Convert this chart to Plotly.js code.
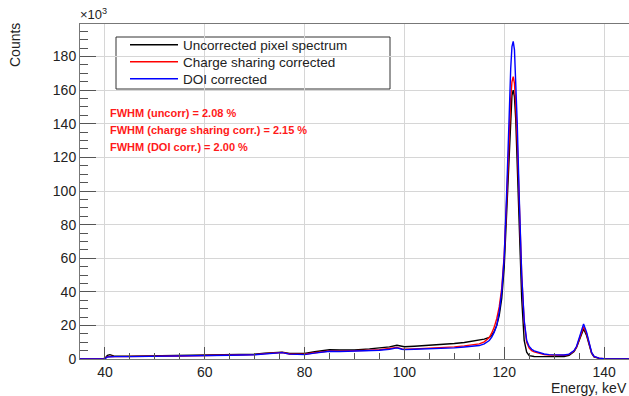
<!DOCTYPE html>
<html>
<head>
<meta charset="utf-8">
<script src="https://cdn.plot.ly/plotly-3.0.1.min.js"></script>
<style>html,body{margin:0;padding:0;background:#fff;} #chart{width:629px;height:396px;}</style>
</head>
<body>
<div id="chart"></div>
<script>
// Energy (keV)
const energy = [35, 39.5, 40, 40.5, 41, 41.5, 42, 45, 50, 55,
  60, 65, 70, 72, 74, 75.5, 77, 80, 82, 85,
  87, 90, 93, 95, 97, 98.5, 99.5, 100, 102, 105,
  108, 110, 112, 115, 116, 117, 117.5, 118, 118.5, 119,
  119.5, 120, 120.5, 121, 121.3, 121.55, 121.8, 122.05, 122.3, 122.6,
  123, 123.5, 124, 124.5, 125, 125.5, 126, 127, 128, 129,
  130, 131, 132, 133, 134, 134.5, 135, 135.5, 135.9, 136.5,
  137, 137.5, 138, 139, 140, 145];

// Counts (x10^3)
const uncorrected = [0, 0, 0.5, 2.2, 2.6, 2.0, 1.6, 1.6, 1.8, 2.0,
  2.3, 2.5, 2.8, 3.4, 4.0, 4.1, 3.3, 3.3, 4.3, 5.5,
  5.4, 5.4, 6.0, 6.4, 7.2, 8.2, 7.4, 7.3, 7.6, 8.1,
  8.7, 9.2, 9.8, 11.0, 11.8, 12.8, 14, 16.5, 20, 26,
  36, 55, 88, 128, 147, 157, 160, 156, 143, 118,
  78, 36, 11, 4, 2, 1.6, 1.5, 1.4, 1.4, 1.4,
  1.4, 1.4, 1.5, 2.2, 4.5, 7, 10.5, 15, 17.9, 14,
  8, 3.5, 1.2, 0.4, 0.2, 0.2];

const chargeSharing = [0, 0, 0.3, 1.4, 1.6, 1.5, 1.4, 1.4, 1.6, 1.8,
  2.1, 2.3, 2.6, 3.2, 3.8, 3.9, 3.0, 2.8, 3.7, 4.8,
  4.7, 4.8, 5.2, 5.5, 6.0, 6.8, 6.0, 5.8, 6.0, 6.3,
  6.8, 7.2, 7.8, 9.0, 10.2, 12.8, 15.5, 19, 24, 31,
  42, 62, 95, 136, 155, 165, 168, 164, 152, 130,
  92, 50, 22, 10, 6.5, 5, 4.2, 3.3, 2.7, 2.4,
  2.2, 2.1, 2.2, 2.7, 4.8, 7.2, 11.5, 16, 19.2, 15,
  8.5, 3.8, 1.4, 0.5, 0.2, 0.1];

const doiCorrected = [0, 0, 0.2, 1.2, 1.4, 1.4, 1.4, 1.4, 1.5, 1.7,
  2.0, 2.2, 2.5, 3.1, 3.7, 3.8, 2.9, 2.6, 3.5, 4.6,
  4.5, 4.6, 5.0, 5.2, 5.8, 6.6, 5.8, 5.6, 5.8, 6.0,
  6.3, 6.6, 7.1, 8.0, 9.0, 11, 13, 16, 20, 28,
  40, 61, 100, 150, 173, 186, 189, 184, 168, 141,
  97, 50, 23, 11, 7.5, 5.8, 4.8, 3.7, 3.0, 2.6,
  2.4, 2.3, 2.4, 2.9, 5.0, 7.6, 12, 17, 20.8, 16,
  9, 4, 1.5, 0.5, 0.2, 0.1];

const seriesNames = ['Uncorrected pixel spectrum', 'Charge sharing corrected', 'DOI corrected'];
const seriesColors = ['#000000', '#ff0000', '#0000ff'];
const seriesValues = [uncorrected, chargeSharing, doiCorrected];
const fwhmLabels = ['FWHM (uncorr) = 2.08 %', 'FWHM (charge sharing corr.) = 2.15 %', 'FWHM (DOI corr.) = 2.00 %'];

const xTicks = [40, 60, 80, 100, 120, 140];
const yTicks = [0, 20, 40, 60, 80, 100, 120, 140, 160, 180];

const legendIds = ['legend', 'legend2', 'legend3'];
const traces = seriesValues.map((v, i) => ({
  x: energy, y: v, type: 'scatter', mode: 'lines', name: seriesNames[i],
  legend: legendIds[i],
  line: {color: seriesColors[i], width: 1.4}
}));

const font = {family: 'Liberation Sans, Arial, sans-serif', color: '#222'};
const PW = 549, PH = 335, L = 80, T = 24;
const px = v => (v - L) / PW;
const py = v => 1 - (v - T) / PH;

const annotations = fwhmLabels.map((t, i) => ({
  xref: 'paper', yref: 'paper', x: px(108), y: py(113 + i * 17.2),
  xanchor: 'left', yanchor: 'middle', showarrow: false,
  text: '<b>' + t + '</b>', font: {family: font.family, size: 11, color: '#ff1a1a'}
}));
annotations.push({
  xref: 'paper', yref: 'paper', x: px(15), y: py(45), xanchor: 'center', yanchor: 'middle',
  textangle: -90, showarrow: false, text: 'Counts', font: {family: font.family, size: 14, color: '#222'}
});
annotations.push({
  xref: 'paper', yref: 'paper', x: px(78), y: 1, xanchor: 'left', yanchor: 'bottom',
  showarrow: false, text: '×10<sup>3</sup>', font: {family: font.family, size: 13, color: '#222'}
});
annotations.push({
  xref: 'paper', yref: 'paper', x: 1, y: py(378), xanchor: 'right', yanchor: 'top',
  showarrow: false, text: 'Energy, keV', font: {family: font.family, size: 14, color: '#222'}
});

const legendBase = {
  xanchor: 'left', yanchor: 'middle',
  bgcolor: 'rgba(0,0,0,0)', borderwidth: 0,
  font: {family: font.family, size: 13.5, color: '#222'},
  itemwidth: 48
};
const legendRows = [45, 62, 79];

const layout = {
  width: 629, height: 396,
  margin: {l: L, r: 0, t: T, b: 37},
  paper_bgcolor: '#fff', plot_bgcolor: '#fff',
  font: font,
  showlegend: true,
  legend: Object.assign({}, legendBase, {x: px(125), y: py(legendRows[0])}),
  legend2: Object.assign({}, legendBase, {x: px(125), y: py(legendRows[1])}),
  legend3: Object.assign({}, legendBase, {x: px(125), y: py(legendRows[2])}),
  xaxis: {
    range: [35, 145], tickvals: xTicks, ticktext: xTicks.map(String),
    ticks: 'inside', ticklen: 12, tickcolor: '#555', tickwidth: 1,
    showgrid: true, gridcolor: '#d6d6d6', gridwidth: 1,
    showline: true, linecolor: '#777', linewidth: 1, mirror: true,
    zeroline: false, tickfont: {size: 14, color: '#222'},
    minor: {dtick: 5, tick0: 0, ticks: 'inside', ticklen: 6, tickcolor: '#555', showgrid: false}
  },
  yaxis: {
    range: [0, 199.4], tickvals: yTicks, ticktext: yTicks.map(String),
    ticks: 'inside', ticklen: 16, tickcolor: '#555', tickwidth: 1,
    showgrid: true, gridcolor: '#d6d6d6', gridwidth: 1,
    showline: true, linecolor: '#777', linewidth: 1, mirror: true,
    zeroline: false, tickfont: {size: 14, color: '#222'},
    minor: {dtick: 5, tick0: 0, ticks: 'inside', ticklen: 8, tickcolor: '#555', showgrid: false}
  },
  shapes: [{
    type: 'rect', xref: 'paper', yref: 'paper',
    x0: px(116), x1: px(390), y0: py(37), y1: py(89),
    line: {color: '#333', width: 1}, fillcolor: '#fff', layer: 'below'
  }],
  annotations: annotations
};

Plotly.newPlot('chart', traces, layout, {displayModeBar: false, staticPlot: true});
</script>
</body>
</html>
